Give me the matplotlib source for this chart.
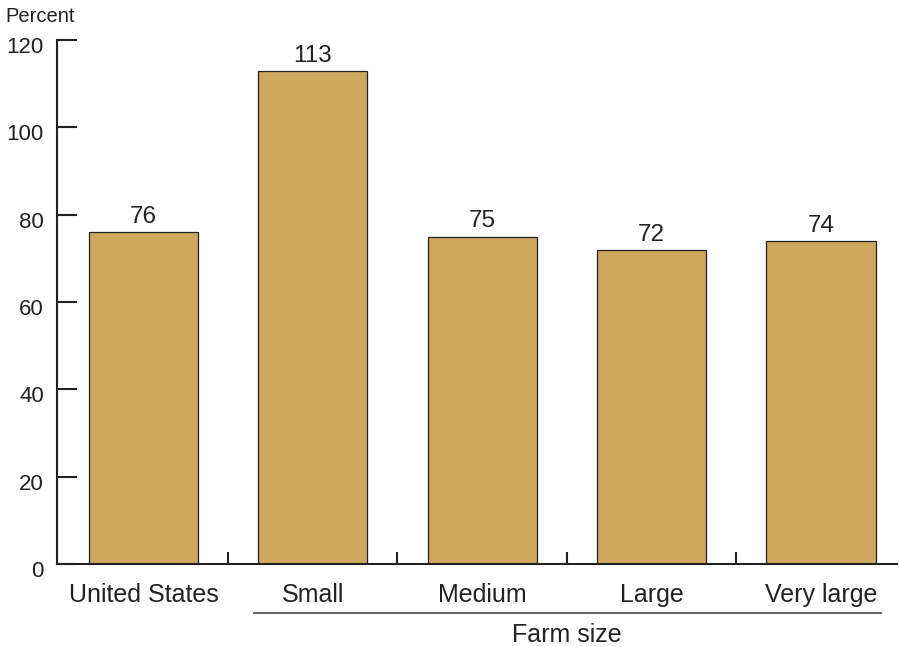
import numpy as np
import matplotlib
matplotlib.use("Agg")
import matplotlib.pyplot as plt
from matplotlib.transforms import blended_transform_factory, ScaledTranslation
from matplotlib.lines import Line2D

# Data ------------------------------------------------------------
categories = ["United States", "Small", "Medium", "Large", "Very large"]
percent = [76, 113, 75, 72, 74]
y_ticks = [0, 20, 40, 60, 80, 100, 120]

BAR_COLOR = "#CEA85E"
TEXT_COLOR = "#222222"

plt.rcParams["font.family"] = ["Liberation Sans", "DejaVu Sans"]

fig = plt.figure(figsize=(8.99, 6.47), dpi=100)
ax = fig.add_axes([0.0634, 0.128, 0.9346, 0.81])

x = np.arange(len(categories))
ax.bar(x, percent, width=0.645, color=BAR_COLOR, edgecolor="#222222", linewidth=0.9, zorder=2)

# value labels above the bars
for xi, v in zip(x, percent):
    ax.annotate(str(v), (xi, v), xytext=(0, 3), textcoords="offset points",
                ha="center", va="bottom", fontsize=17.5, color=TEXT_COLOR)

ax.set_xlim(-0.51, 4.45)
ax.set_ylim(0, 120)

# spines
for s in ["top", "right"]:
    ax.spines[s].set_visible(False)
for s in ["left", "bottom"]:
    ax.spines[s].set_linewidth(1.5)
    ax.spines[s].set_color("#222222")
ax.spines["bottom"].set_zorder(3)

# y axis: inward ticks, labels sit a little below their ticks
ax.set_yticks(y_ticks)
ax.tick_params(axis="y", direction="in", length=14.5, width=1.5, color="#222222",
               pad=9.5, labelsize=16, labelcolor=TEXT_COLOR)
shift = ScaledTranslation(0, -5 / 100, fig.dpi_scale_trans)
for lab in ax.get_yticklabels():
    lab.set_transform(lab.get_transform() + shift)

# x axis: category labels at centers, separators between categories
ax.set_xticks(x)
ax.set_xticklabels(categories)
ax.set_xticks(x[:-1] + 0.5, minor=True)
ax.tick_params(axis="x", which="major", length=0, pad=13.5, labelsize=18, labelcolor=TEXT_COLOR)
ax.tick_params(axis="x", which="minor", direction="in", length=8.5, width=1.5, color="#222222")

# bracket line and label for farm size groups
trans = blended_transform_factory(ax.transData, ax.transAxes)
ax.add_line(Line2D([0.655, 4.352], [-0.0935, -0.0935], transform=trans,
                   color="#555555", linewidth=1.3, clip_on=False))
ax.text(2.5, -0.136, "Farm size", transform=trans, ha="center", va="center",
        fontsize=18, color=TEXT_COLOR)

fig.text(0.006, 0.974, "Percent", ha="left", va="center", fontsize=14.5, color=TEXT_COLOR)

fig.savefig("out.png", dpi=100)
